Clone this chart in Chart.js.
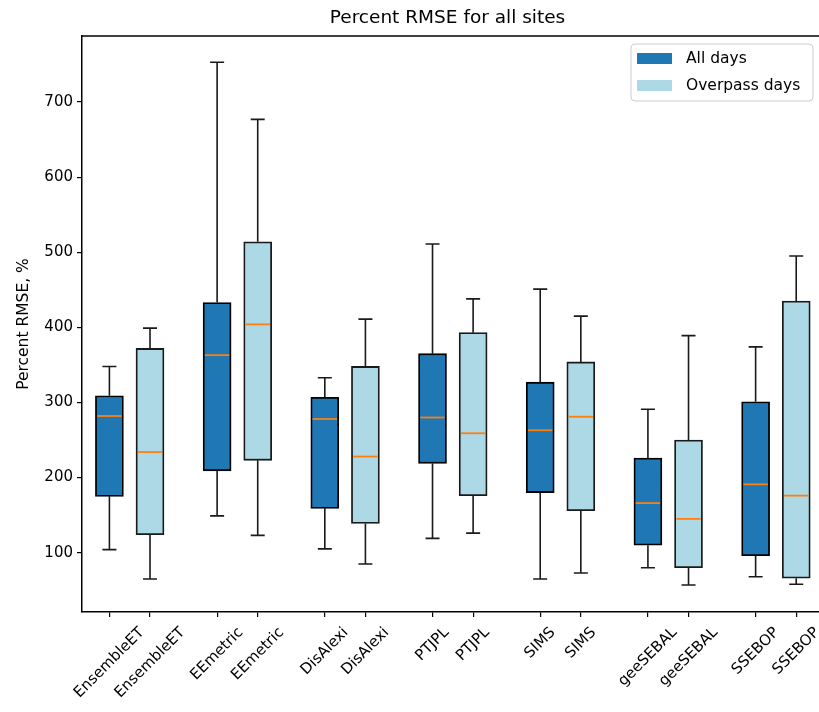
<!DOCTYPE html>
<html>
<head>
<meta charset="utf-8">
<script src="https://cdn.jsdelivr.net/npm/chart.js@4.4.0/dist/chart.umd.min.js"></script>
<style>
  html, body { margin: 0; padding: 0; background: #fff; overflow: hidden; }
</style>
</head>
<body>
<canvas id="myChart" width="819" height="712"></canvas>
<script>
// data
const models = ['EnsembleET', 'EEmetric', 'DisAlexi', 'PTJPL', 'SIMS', 'geeSEBAL', 'SSEBOP'];

const allLow  = [104, 149, 105, 119, 65, 80, 68];
const allQ1   = [175, 209, 159, 219, 180, 110, 96];
const allMed  = [282, 363, 278, 280, 263, 166, 191];
const allQ3   = [309, 433, 307, 365, 327, 226, 301];
const allHigh = [348, 753, 333, 511, 451, 291, 374];

const overLow  = [65, 123, 85, 126, 73, 57, 58];
const overQ1   = [124, 223, 139, 176, 156, 80, 66];
const overMed  = [234, 404, 228, 259, 281, 145, 176];
const overQ3   = [372, 514, 348, 393, 354, 250, 435];
const overHigh = [399, 677, 411, 438, 415, 389, 495];

const yTicks = [100, 200, 300, 400, 500, 600, 700];

const off = 0.1885;
let xPos = [];
let xLabels = [];
models.forEach((m, i) => {
  xPos.push(i - off); xLabels.push(m);
  xPos.push(i + off); xLabels.push(m);
});

const FONT = '"DejaVu Sans", sans-serif';

function boxData(q1, q3, low, med, high, sign) {
  return models.map((m, i) => ({ x: i + sign * off, y: [q1[i], q3[i]], low: low[i], med: med[i], high: high[i] }));
}

// whiskers, caps and medians on top of the bars
const whiskers = {
  id: 'whiskers',
  afterDatasetsDraw(chart) {
    const ctx = chart.ctx;
    const y = chart.scales.y;
    chart.data.datasets.forEach((ds, d) => {
      const meta = chart.getDatasetMeta(d);
      meta.data.forEach((bar, i) => {
        const p = ds.data[i];
        const x = bar.x, w = bar.width;
        const yq1 = y.getPixelForValue(p.y[0]), yq3 = y.getPixelForValue(p.y[1]);
        const ylo = y.getPixelForValue(p.low), yhi = y.getPixelForValue(p.high);
        const ym = y.getPixelForValue(p.med);
        ctx.save();
        ctx.strokeStyle = '#1a1a1a';
        ctx.lineWidth = 1.6;
        ctx.beginPath();
        ctx.moveTo(x, yq3); ctx.lineTo(x, yhi);
        ctx.moveTo(x, yq1); ctx.lineTo(x, ylo);
        ctx.moveTo(x - w / 4, yhi); ctx.lineTo(x + w / 4, yhi);
        ctx.moveTo(x - w / 4, ylo); ctx.lineTo(x + w / 4, ylo);
        ctx.stroke();
        ctx.strokeStyle = '#ff7f0e';
        ctx.lineWidth = 1.8;
        ctx.beginPath();
        ctx.moveTo(x - w / 2 + 1.8, ym); ctx.lineTo(x + w / 2 - 1.8, ym);
        ctx.stroke();
        ctx.restore();
      });
    });
  }
};

// title, top spine, rotated x labels, legend inside the axes
const decor = {
  id: 'decor',
  afterDraw(chart) {
    const ctx = chart.ctx;
    const a = chart.chartArea;
    const xs = chart.scales.x;
    ctx.save();

    ctx.fillStyle = '#000';
    ctx.font = '18.5px ' + FONT;
    ctx.textAlign = 'center';
    ctx.textBaseline = 'middle';
    ctx.fillText('Percent RMSE for all sites', (a.left + a.right) / 2 - 3, 18);

    ctx.strokeStyle = '#000';
    ctx.lineWidth = 1.5;
    ctx.beginPath();
    ctx.moveTo(a.left, a.top); ctx.lineTo(a.right + 5, a.top);
    ctx.stroke();

    ctx.font = '15px ' + FONT;
    xs.ticks.forEach((t, i) => {
      const x = xs.getPixelForValue(t.value);
      const w = ctx.measureText(xLabels[i]).width;
      const h = 15 * 1.17;
      const H = (w + h) * Math.SQRT1_2;
      ctx.save();
      ctx.translate(x, a.bottom + 12 + H / 2);
      ctx.rotate(-Math.PI / 4);
      ctx.textAlign = 'center';
      ctx.textBaseline = 'middle';
      ctx.fillText(xLabels[i], 0, 0);
      ctx.restore();
    });

    // legend
    const lx = a.right - 188, ly = a.top + 8, lw = 182, lh = 57;
    ctx.beginPath();
    ctx.roundRect(lx, ly, lw, lh, 4);
    ctx.fillStyle = 'rgba(255,255,255,0.8)';
    ctx.fill();
    ctx.strokeStyle = '#cccccc';
    ctx.lineWidth = 1;
    ctx.stroke();
    chart.data.datasets.forEach((ds, d) => {
      const cy = ly + 14.5 + d * 27;
      ctx.fillStyle = ds.backgroundColor;
      ctx.fillRect(lx + 6, cy - 5.5, 35, 11);
      ctx.fillStyle = '#000';
      ctx.font = '15.5px ' + FONT;
      ctx.textAlign = 'left';
      ctx.textBaseline = 'middle';
      ctx.fillText(ds.label, lx + 55, cy);
    });
    ctx.restore();
  }
};

const ctx = document.getElementById('myChart');
let myChart = new Chart(ctx, {
  type: 'bar',
  data: {
    datasets: [{
      label: 'All days',
      data: boxData(allQ1, allQ3, allLow, allMed, allHigh, -1),
      backgroundColor: '#1f77b4',
      borderColor: '#000',
      borderWidth: 1.8,
      borderSkipped: false,
      barThickness: 28,
      grouped: false
    }, {
      label: 'Overpass days',
      data: boxData(overQ1, overQ3, overLow, overMed, overHigh, 1),
      backgroundColor: '#add8e6',
      borderColor: '#1a1a1a',
      borderWidth: 1.8,
      borderSkipped: false,
      barThickness: 28,
      grouped: false
    }]
  },
  options: {
    responsive: false,
    animation: false,
    layout: { padding: { top: 36, right: 0, bottom: 0, left: 0 } },
    plugins: {
      legend: { display: false },
      title: { display: false },
      tooltip: { enabled: false }
    },
    scales: {
      x: {
        type: 'linear',
        min: -0.443,
        max: 6.40,
        offset: false,
        afterBuildTicks: s => { s.ticks = xPos.map(v => ({ value: v })); },
        afterFit: s => { s.height = 100; },
        ticks: { display: false },
        grid: { offset: false, drawOnChartArea: false, drawTicks: true, tickLength: 5, color: '#000', lineWidth: 1.2 },
        border: { display: true, color: '#000', width: 1.5 }
      },
      y: {
        min: 21,
        max: 788,
        afterBuildTicks: s => { s.ticks = yTicks.map(v => ({ value: v })); },
        afterFit: s => { s.width = 82; },
        ticks: { color: '#000', font: { family: FONT, size: 15 }, padding: 4 },
        grid: { drawOnChartArea: false, drawTicks: true, tickLength: 5, color: '#000', lineWidth: 1.2 },
        border: { display: true, color: '#000', width: 1.5 },
        title: {
          display: true,
          text: 'Percent RMSE, %',
          color: '#000',
          font: { family: FONT, size: 15.5 },
          padding: { top: 15, bottom: 4 }
        }
      }
    }
  },
  plugins: [whiskers, decor]
});
</script>
</body>
</html>
